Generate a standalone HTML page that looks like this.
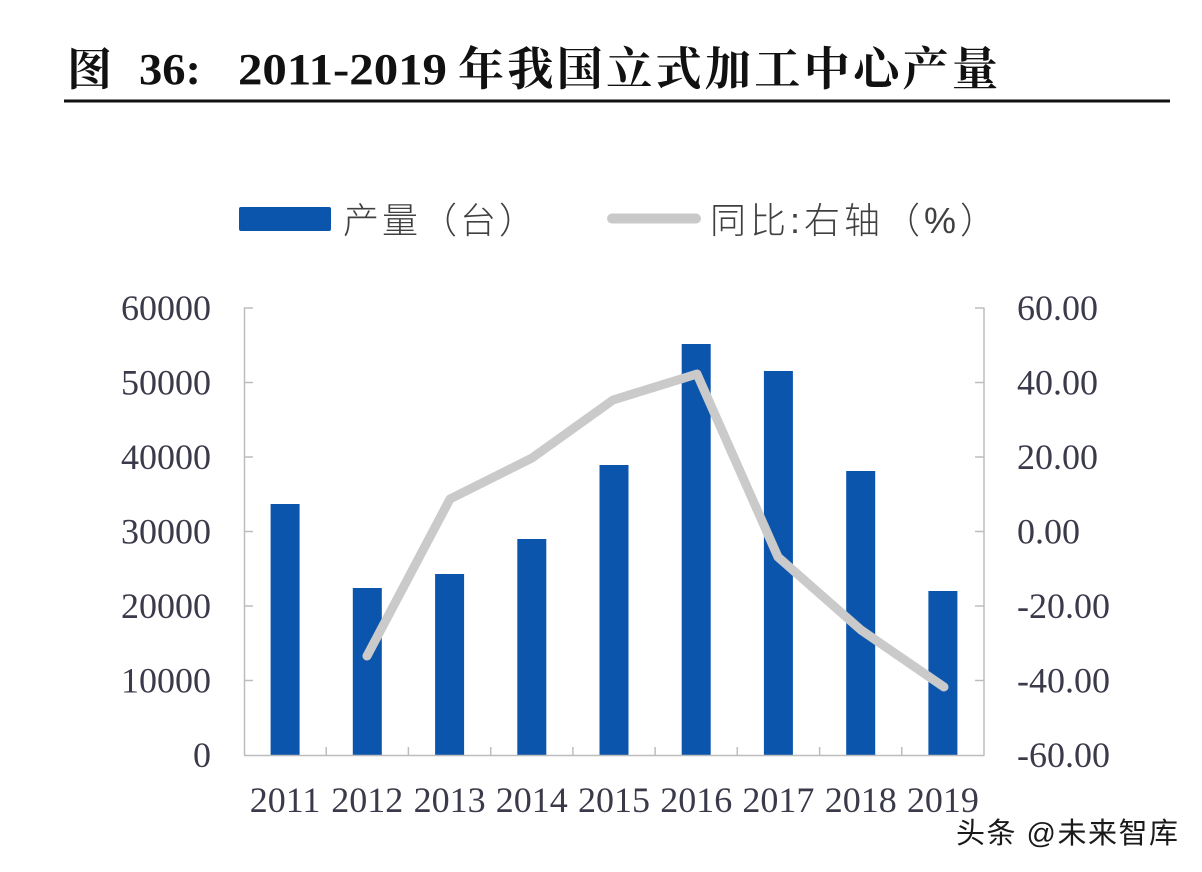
<!DOCTYPE html>
<html>
<head>
<meta charset="utf-8">
<style>
  html,body{margin:0;padding:0;background:#ffffff;}
  svg{display:block;}
</style>
</head>
<body>
<svg width="1202" height="872" viewBox="0 0 1202 872" xmlns="http://www.w3.org/2000/svg">
  <rect x="0" y="0" width="1202" height="872" fill="#ffffff"/>

  <!-- Title -->
  <g font-family="'Liberation Serif','Noto Serif CJK SC',serif" font-weight="bold" fill="#111111">
    <text x="67" y="85" font-size="45">图</text>
    <text x="139" y="84" font-size="44" textLength="62" lengthAdjust="spacingAndGlyphs">36:</text>
    <text x="238" y="84" font-size="44" textLength="209" lengthAdjust="spacingAndGlyphs">2011-2019</text>
    <text x="458" y="85" font-size="46" textLength="540" lengthAdjust="spacing">年我国立式加工中心产量</text>
  </g>
  <rect x="64" y="99.5" width="1106" height="3" fill="#111111"/>

  <!-- Legend -->
  <rect x="239" y="207" width="92" height="24" rx="2" fill="#0b55ad"/>
  <text x="343" y="233" font-family="'Liberation Sans','Noto Sans CJK SC',sans-serif" font-weight="300" font-size="36" fill="#404040" textLength="192" lengthAdjust="spacing">产量（台）</text>
  <line x1="612" y1="218.5" x2="696" y2="218.5" stroke="#c9c9c9" stroke-width="10" stroke-linecap="round"/>
  <text x="710" y="233" font-family="'Liberation Sans','Noto Sans CJK SC',sans-serif" font-weight="300" font-size="36" fill="#404040" textLength="286" lengthAdjust="spacing">同比:右轴（%）</text>

  <!-- Bars -->
  <g fill="#0b55ad">
    <rect x="270.6" y="504" width="29" height="251"/>
    <rect x="352.8" y="588" width="29" height="167"/>
    <rect x="435.1" y="574" width="29" height="181"/>
    <rect x="517.3" y="539" width="29" height="216"/>
    <rect x="599.5" y="465" width="29" height="290"/>
    <rect x="681.7" y="344" width="29" height="411"/>
    <rect x="763.9" y="371" width="29" height="384"/>
    <rect x="846.2" y="471" width="29" height="284"/>
    <rect x="928.4" y="591" width="29" height="164"/>
  </g>

  <!-- Axes -->
  <g stroke="#bdbdbd" stroke-width="1.5" fill="none">
    <line x1="244.5" y1="307.5" x2="244.5" y2="755.5"/>
    <line x1="984" y1="307.5" x2="984" y2="755.5"/>
    <line x1="244" y1="755.5" x2="984.5" y2="755.5"/>
    <!-- left ticks -->
    <line x1="244" y1="308" x2="253" y2="308"/>
    <line x1="244" y1="382.5" x2="253" y2="382.5"/>
    <line x1="244" y1="457" x2="253" y2="457"/>
    <line x1="244" y1="531.5" x2="253" y2="531.5"/>
    <line x1="244" y1="606" x2="253" y2="606"/>
    <line x1="244" y1="680.5" x2="253" y2="680.5"/>
    <!-- right ticks -->
    <line x1="975" y1="308" x2="984" y2="308"/>
    <line x1="975" y1="382.5" x2="984" y2="382.5"/>
    <line x1="975" y1="457" x2="984" y2="457"/>
    <line x1="975" y1="531.5" x2="984" y2="531.5"/>
    <line x1="975" y1="606" x2="984" y2="606"/>
    <line x1="975" y1="680.5" x2="984" y2="680.5"/>
    <!-- category ticks -->
    <line x1="326.2" y1="747" x2="326.2" y2="755"/>
    <line x1="408.4" y1="747" x2="408.4" y2="755"/>
    <line x1="490.7" y1="747" x2="490.7" y2="755"/>
    <line x1="572.9" y1="747" x2="572.9" y2="755"/>
    <line x1="655.1" y1="747" x2="655.1" y2="755"/>
    <line x1="737.3" y1="747" x2="737.3" y2="755"/>
    <line x1="819.6" y1="747" x2="819.6" y2="755"/>
    <line x1="901.8" y1="747" x2="901.8" y2="755"/>
  </g>

  <!-- Line series -->
  <polyline points="367,656 450,499 532,458 613,400 697,374 778,557 861,630 944,687"
            fill="none" stroke="#cacaca" stroke-width="9" stroke-linecap="round" stroke-linejoin="round"/>

  <!-- Left axis labels -->
  <g font-family="'Liberation Serif',serif" font-size="36" fill="#3a3a4a" text-anchor="end">
    <text x="211" y="320">60000</text>
    <text x="211" y="394.5">50000</text>
    <text x="211" y="469">40000</text>
    <text x="211" y="543.5">30000</text>
    <text x="211" y="618">20000</text>
    <text x="211" y="692.5">10000</text>
    <text x="211" y="767">0</text>
  </g>

  <!-- Right axis labels -->
  <g font-family="'Liberation Serif',serif" font-size="36" fill="#3a3a4a">
    <text x="1017" y="320">60.00</text>
    <text x="1017" y="394.5">40.00</text>
    <text x="1017" y="469">20.00</text>
    <text x="1017" y="543.5">0.00</text>
    <text x="1017" y="618">-20.00</text>
    <text x="1017" y="692.5">-40.00</text>
    <text x="1017" y="767">-60.00</text>
  </g>

  <!-- X axis labels -->
  <g font-family="'Liberation Serif',serif" font-size="36" fill="#3a3a4a" text-anchor="middle">
    <text x="285.1" y="812">2011</text>
    <text x="367.3" y="812">2012</text>
    <text x="449.6" y="812">2013</text>
    <text x="531.8" y="812">2014</text>
    <text x="614" y="812">2015</text>
    <text x="696.2" y="812">2016</text>
    <text x="778.4" y="812">2017</text>
    <text x="860.7" y="812">2018</text>
    <text x="942.9" y="812">2019</text>
  </g>

  <!-- Watermark -->
  <text x="956" y="843" font-family="'Liberation Sans','Noto Sans CJK SC',sans-serif" font-size="29" fill="#1a1a1a"
        stroke="#ffffff" stroke-width="0.6" paint-order="stroke" textLength="222" lengthAdjust="spacing">头条 @未来智库</text>
</svg>
</body>
</html>
